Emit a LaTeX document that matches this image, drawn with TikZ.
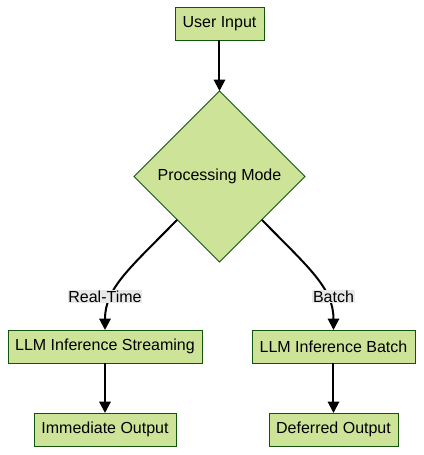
\documentclass[tikz,border=0pt]{standalone}
\usepackage{fontspec}
\setmainfont{Liberation Sans}
\usetikzlibrary{shapes.geometric,arrows.meta}
\definecolor{boxfill}{HTML}{CDE498}
\definecolor{boxline}{HTML}{13540C}
\definecolor{lblfill}{HTML}{E8E8E8}
\begin{document}
\begin{tikzpicture}[>={Triangle[length=8.5pt,width=8.5pt]},x=0.75pt,y=-0.75pt,
	box/.style={draw=boxline,fill=boxfill,line width=0.6pt,minimum height=24.75pt,inner sep=0pt,outer sep=0pt,font=\fontsize{12}{14}\selectfont},
	decision/.style={diamond,aspect=1,draw=boxline,fill=boxfill,line width=0.6pt,minimum width=128.25pt,minimum height=128.25pt,inner sep=0pt,outer sep=0pt,font=\fontsize{12}{14}\selectfont},
	lbl/.style={fill=lblfill,inner sep=0.6pt,font=\fontsize{12}{14}\selectfont},
	link/.style={->,line width=1.5pt}]
		\useasboundingbox (0,0) rectangle (424,455);
		\node[box,minimum width=66.75pt] (user) at (219.5,23.5) {User Input};
		\node[decision] (mode) at (219.5,176.5) {Processing Mode};
		\node[box,minimum width=145.5pt] (stream) at (105,346.5) {LLM Inference Streaming};
		\node[box,minimum width=122.25pt] (batch) at (333.5,346.5) {LLM Inference Batch};
		\node[box,minimum width=106.5pt] (immediate) at (105,429.5) {Immediate Output};
		\node[box,minimum width=96.75pt] (deferred) at (333.5,429.5) {Deferred Output};
		\draw[link] (user) -- (mode);
		\draw[link] (mode) .. controls (130,268) and (105,288) .. (stream);
		\draw[link] (mode) .. controls (309,268) and (333.5,288) .. (batch);
		\draw[link] (stream) -- (immediate);
		\draw[link] (batch) -- (deferred);
		\node[lbl] (realtime) at (105,296.5) {Real-Time};
		\node[lbl] (batchlbl) at (333.5,296.5) {Batch};
\end{tikzpicture}
\end{document}
